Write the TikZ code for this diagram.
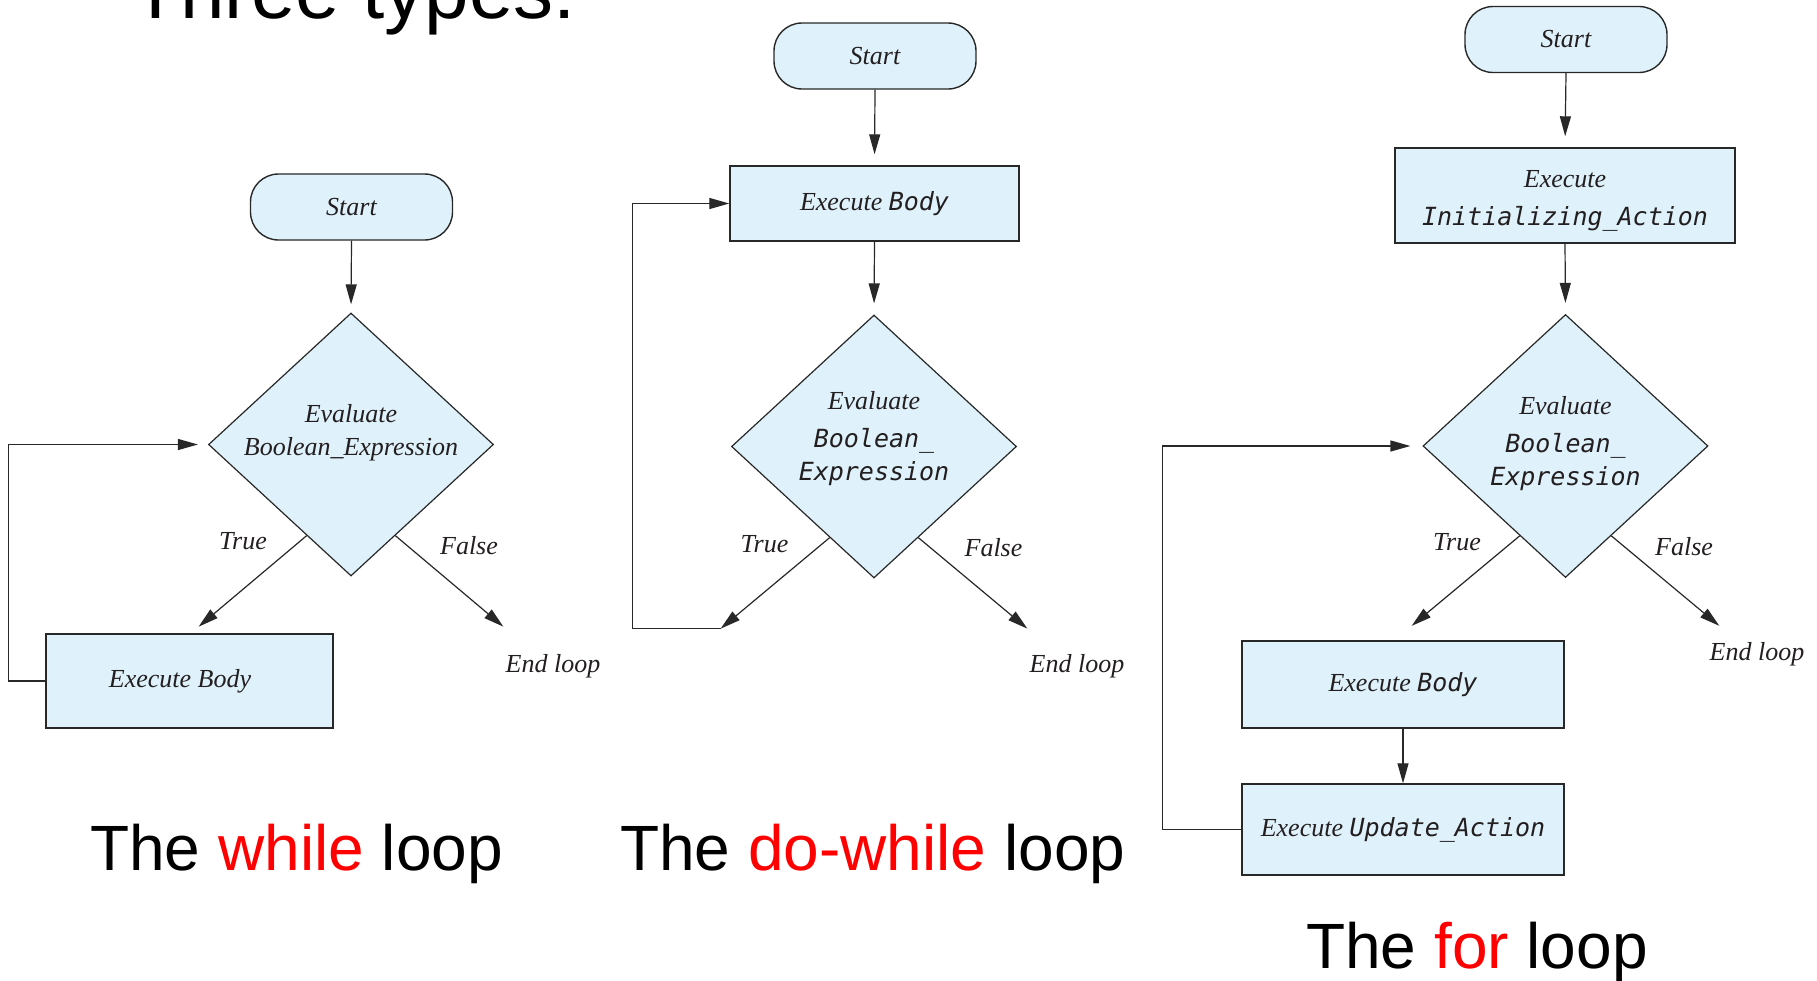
\documentclass[tikz,border=0pt]{standalone}
\usepackage{fontspec}
\setmainfont{Liberation Serif}
\newfontfamily\capfont{Liberation Sans}
\newfontfamily\codefont{DejaVu Sans Mono}
\usetikzlibrary{arrows.meta,shapes.geometric,calc}
\definecolor{boxfill}{RGB}{223,241,251}
\definecolor{edgecol}{RGB}{40,40,40}
\definecolor{capred}{RGB}{255,0,0}
\newcommand{\cd}[1]{{\codefont\fontsize{25}{33}\selectfont\itshape #1}}
\begin{document}
\begin{tikzpicture}[x=1pt,y=-1pt,
  every node/.style={font=\fontsize{26}{33}\selectfont\itshape, text={rgb,255:red,35;green,31;blue,32}},
  term/.style={draw=edgecol, line width=1.4pt, fill=boxfill, rounded corners=28pt, minimum width=202pt, minimum height=66pt, inner sep=0pt},
  procbox/.style={draw=edgecol, line width=1.4pt, fill=boxfill, inner sep=0pt, align=center},
  decision/.style={draw=edgecol, line width=1.2pt, fill=boxfill, diamond, minimum width=285pt, minimum height=263pt, inner sep=0pt},
  flow/.style={draw=edgecol, line width=1.2pt, -{Triangle[length=20pt,width=11pt]}},
  lbl/.style={anchor=base, inner sep=0pt},
  caption/.style={anchor=base west, inner sep=0pt, font=\capfont\fontsize{64}{77}\selectfont, text=black}
]
\fill[white] (0,0) rectangle (1817,980);
\useasboundingbox (0,0) rectangle (1817,980);
\clip (0,0) rectangle (1817,980);

\node[anchor=base west, inner sep=0pt, font=\capfont\fontsize{80}{96}\selectfont, text=black] (title) at (131,18) {Three types:};

% ---------- while loop ----------
\node[term] (ws) at (351.5,207) {Start};
\node[decision] (wd) at (351,444.5) {};
\node[align=center, inner sep=0pt] (wdt) at (351,432.5) {Evaluate\\Boolean\_Expression};
\node[procbox, minimum width=287pt, minimum height=94pt] (wb) at (189.5,681) {Execute Body\hspace*{19pt}};
\coordinate (wts) at ($(wd.west)!0.69!(wd.south)$);
\coordinate (wte) at ($(wts)+(-108,91)$);
\coordinate (wfs) at ($(wd.east)!0.69!(wd.south)$);
\coordinate (wfe) at ($(wfs)+(108,91)$);
\draw[flow, shorten >=8pt] (ws.south) -- (wd.north);
\draw[flow] (wts) -- (wte);
\draw[flow] (wfs) -- (wfe);
\draw[flow, shorten >=10pt] (wb.west) -- ++(-37,0) |- (wd.west);
\node[lbl] (wtl) at (243,549) {True};
\node[lbl] (wfl) at (469,554) {False};
\node[lbl] (wel) at (553,672) {End loop};
\node[caption] (wcap) at (90,870) {The \textcolor{capred}{while} loop};

% ---------- do-while loop ----------
\node[term] (ds) at (875,56) {Start};
\node[procbox, minimum width=289pt, minimum height=75pt] (db) at (874.5,203.5) {Execute \cd{Body}};
\node[decision] (dd) at (874,446.5) {};
\node[align=center, inner sep=0pt] (ddt) at (874,439) {Evaluate\\[5pt]\cd{Boolean\_}\\\cd{Expression}};
\coordinate (dts) at ($(dd.west)!0.69!(dd.south)$);
\coordinate (dte) at ($(dts)+(-109,91)$);
\coordinate (dfs) at ($(dd.east)!0.69!(dd.south)$);
\coordinate (dfe) at ($(dfs)+(109,91)$);
\draw[flow, shorten >=11pt] (ds.south) -- (db.north);
\draw[flow, shorten >=11pt] (db.south) -- (dd.north);
\draw[flow] (dts) -- (dte);
\draw[flow] (dfs) -- (dfe);
\draw[flow] (dte) -- ++(-88,0) |- (db.west);
\node[lbl] (dtl) at (764.5,552) {True};
\node[lbl] (dfl) at (993.5,556) {False};
\node[lbl] (del) at (1077,672) {End loop};
\node[caption] (dcap) at (620,870) {The \textcolor{capred}{do-while} loop};

% ---------- for loop ----------
\node[term] (fs) at (1566,39.5) {Start};
\node[procbox, minimum width=340pt, minimum height=95pt] (fi) at (1565,195.5) {\rule{0pt}{27pt}Execute\\[5pt]\cd{Initializing\_Action}};
\node[decision] (fd) at (1565.5,446) {};
\node[align=center, inner sep=0pt] (fdt) at (1565.5,443.5) {Evaluate\\[5pt]\cd{Boolean\_}\\\cd{Expression}};
\node[procbox, minimum width=322pt, minimum height=87pt] (fb) at (1403,684.5) {Execute \cd{Body}};
\node[procbox, minimum width=322pt, minimum height=91pt] (fu) at (1403,829.5) {Execute \cd{Update\_Action}};
\coordinate (fts) at ($(fd.west)!0.68!(fd.south)$);
\coordinate (fte) at ($(fts)+(-108,90)$);
\coordinate (ffs) at ($(fd.east)!0.68!(fd.south)$);
\coordinate (ffe) at ($(ffs)+(108,90)$);
\draw[flow, shorten >=11pt] (fs.south) -- (fi.north);
\draw[flow, shorten >=11pt] (fi.south) -- (fd.north);
\draw[flow] (fts) -- (fte);
\draw[flow] (ffs) -- (ffe);
\draw[flow] (fb.south) -- (fu.north);
\draw[flow, shorten >=12pt] (fu.west) -- ++(-79,0) |- (fd.west);
\node[lbl] (ftl) at (1457,550) {True};
\node[lbl] (ffl) at (1684,555) {False};
\node[lbl] (fel) at (1757,660) {End loop};
\node[caption] (fcap) at (1306,968) {The \textcolor{capred}{for} loop};
\end{tikzpicture}
\end{document}
